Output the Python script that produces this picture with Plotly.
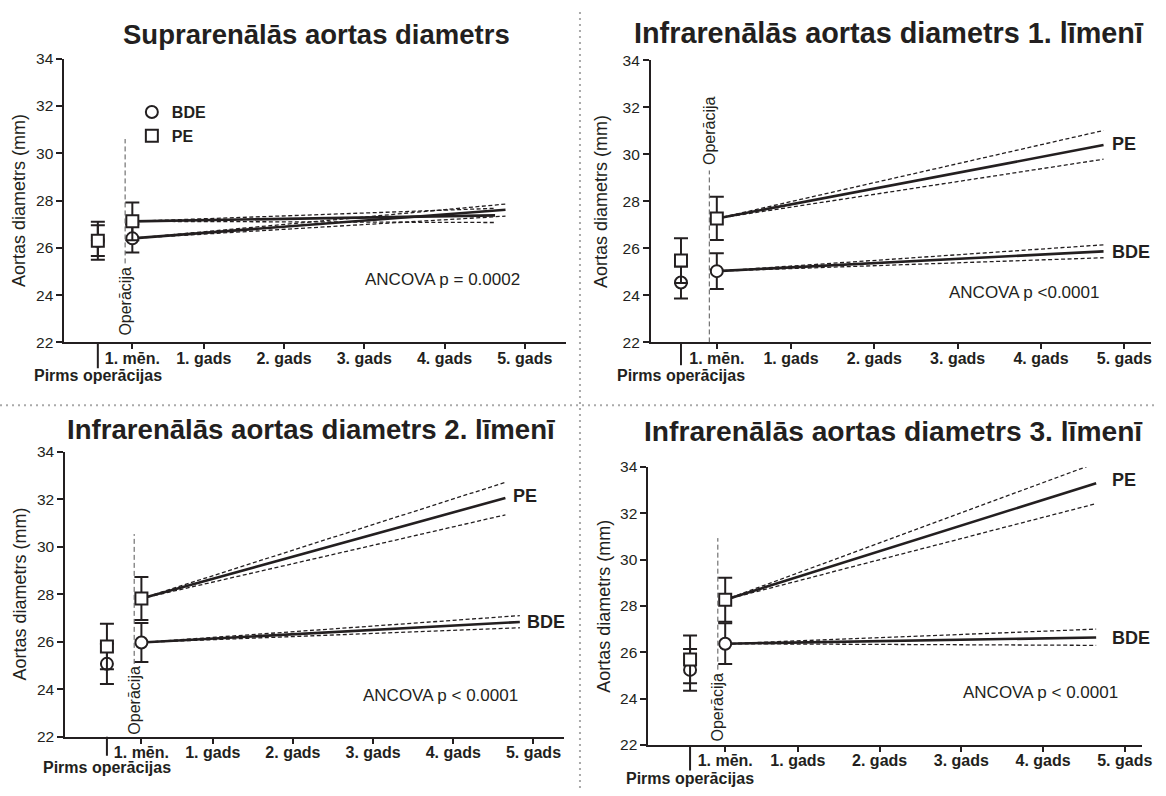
import plotly.graph_objects as go

W, H = 1166, 796
FONT = "Liberation Sans, Arial, Helvetica, sans-serif"
INK = "#231f20"

# ---------------- data ----------------
panel_titles = [
    "Suprarenālās aortas diametrs",
    "Infrarenālās aortas diametrs 1. līmenī",
    "Infrarenālās aortas diametrs 2. līmenī",
    "Infrarenālās aortas diametrs 3. līmenī",
]
ancova_texts = ["ANCOVA p = 0.0002", "ANCOVA p <0.0001", "ANCOVA p < 0.0001", "ANCOVA p < 0.0001"]
y_axis_title = "Aortas diametrs (mm)"
x_tick_labels = ["1. mēn.", "1. gads", "2. gads", "3. gads", "4. gads", "5. gads"]
x_tick_years = [0.11, 1, 2, 3, 4, 5]
preop_label = "Pirms operācijas"
operation_label = "Operācija"
preop_x = -0.32
month1_x = 0.11
operation_x = 0.02
y_ticks = [22, 24, 26, 28, 30, 32, 34]
group_names = ["BDE", "PE"]

# measured means and error half-widths (mm), per panel
bde_preop_mean = [26.30, 24.55, 25.07, 25.24]
bde_preop_err = [0.80, 0.68, 0.85, 0.90]
pe_preop_mean = [26.30, 25.48, 25.80, 25.69]
pe_preop_err = [0.65, 0.95, 0.96, 1.03]
bde_1m_mean = [26.40, 25.03, 25.97, 26.37]
bde_1m_err = [0.60, 0.76, 0.82, 0.88]
pe_1m_mean = [27.12, 27.27, 27.82, 28.27]
pe_1m_err = [0.80, 0.92, 0.90, 0.95]

# regression lines (start at 1 month mean) and CI bounds at line end
bde_fit_end_x = [4.76, 4.75, 4.83, 4.65]
bde_fit_end = [27.61, 25.87, 26.83, 26.64]
bde_ci_hi_end = [27.85, 26.15, 27.10, 27.00]
bde_ci_lo_end = [27.34, 25.60, 26.59, 26.30]
pe_fit_end_x = [4.63, 4.75, 4.65, 4.65]
pe_fit_end = [27.37, 30.39, 32.05, 33.30]
pe_ci_hi_end = [27.67, 31.01, 32.71, 34.17]
pe_ci_lo_end = [27.07, 29.79, 31.34, 32.42]

# ---------------- layout (pixel boxes etc.) ----------------
panels = [
    dict(xd=(65, 570.6), yd=(50.7, 340.7), xr=(-0.736, 5.51), tx=319.5, ty=26, ts=27.5, ytx=18.6,
         anc=(3.97, 24.66), op_text_y=23.73, op_line=(25.34, 30.6), pre_y=375, pre_tick=367, end_labels=None),
    dict(xd=(656.6, 1161), yd=(52.3, 340.7), xr=(-0.68, 5.32), tx=897, ty=25, ts=28.8, ytx=607,
         anc=(3.79, 24.14), op_text_y=31.0, op_line=(22.0, 29.31), pre_y=374, pre_tick=364,
         end_labels=((4.83, 30.45), (4.83, 25.84))),
    dict(xd=(65.8, 568.8), yd=(452.3, 743.7), xr=(-0.84, 5.38), tx=314, ty=429.7, ts=27.6, ytx=20.4,
         anc=(3.84, 23.74), op_text_y=23.53, op_line=(25.07, 30.53), pre_y=775.5, pre_tick=763,
         end_labels=((4.72, 32.13), (4.90, 26.83))),
    dict(xd=(654, 1151.8), yd=(468, 752), xr=(-0.83, 5.21), tx=900.8, ty=431.3, ts=28.2, ytx=609,
         anc=(3.97, 24.28), op_text_y=23.65, op_line=(25.25, 30.93), pre_y=786, pre_tick=778,
         end_labels=((4.82, 33.46), (4.82, 26.60))),
]

fig = go.Figure()
annotations = []
shapes = []
layout_axes = {}

for i, p in enumerate(panels):
    sfx = "" if i == 0 else str(i + 1)
    xa, ya = "x" + sfx, "y" + sfx

    # regression lines with confidence bounds
    for start, end_x, fit, hi, lo in [
        (bde_1m_mean[i], bde_fit_end_x[i], bde_fit_end[i], bde_ci_hi_end[i], bde_ci_lo_end[i]),
        (pe_1m_mean[i], pe_fit_end_x[i], pe_fit_end[i], pe_ci_hi_end[i], pe_ci_lo_end[i]),
    ]:
        for yend in (hi, lo):
            fig.add_trace(go.Scatter(x=[month1_x, end_x], y=[start, yend], mode="lines",
                                     line=dict(color=INK, width=1.3, dash="4px,2.5px"),
                                     xaxis=xa, yaxis=ya, showlegend=False, hoverinfo="skip"))
        fig.add_trace(go.Scatter(x=[month1_x, end_x], y=[start, fit], mode="lines",
                                 line=dict(color=INK, width=2.6),
                                 xaxis=xa, yaxis=ya, showlegend=False, hoverinfo="skip"))

    # group means with error bars
    for gname, sym, means, errs in [
        ("BDE", "circle", [bde_preop_mean[i], bde_1m_mean[i]], [bde_preop_err[i], bde_1m_err[i]]),
        ("PE", "square", [pe_preop_mean[i], pe_1m_mean[i]], [pe_preop_err[i], pe_1m_err[i]]),
    ]:
        fig.add_trace(go.Scatter(
            x=[preop_x, month1_x], y=means, mode="markers", name=gname,
            marker=dict(symbol=sym, size=12, color="white", line=dict(color=INK, width=2)),
            error_y=dict(type="data", array=errs, visible=True, color=INK, thickness=2, width=7),
            xaxis=xa, yaxis=ya, showlegend=(i == 0), legendgroup=gname,
        ))

    layout_axes["xaxis" + sfx] = dict(
        domain=[p["xd"][0] / W, p["xd"][1] / W], range=list(p["xr"]), anchor=ya,
        tickmode="array", tickvals=x_tick_years, ticktext=["<b>%s</b>" % t for t in x_tick_labels],
        ticks="outside", ticklen=5, tickwidth=1.5, tickcolor=INK, ticklabelstandoff=-5,
        showline=True, linewidth=2, linecolor=INK, showgrid=False, zeroline=False,
        tickfont=dict(family=FONT, size=16, color=INK), fixedrange=True,
    )
    layout_axes["yaxis" + sfx] = dict(
        domain=[1 - p["yd"][1] / H, 1 - p["yd"][0] / H], range=[22, 34], anchor=xa,
        tickmode="array", tickvals=y_ticks,
        ticks="outside", ticklen=6, tickwidth=1.5, tickcolor=INK,
        showline=True, linewidth=2, linecolor=INK, showgrid=False, zeroline=False,
        tickfont=dict(family=FONT, size=15.5, color=INK), fixedrange=True,
    )

    # panel title
    annotations.append(dict(text="<b>%s</b>" % panel_titles[i], xref="paper", yref="paper",
                            x=p["tx"] / W, y=1 - p["ty"] / H, xanchor="center", yanchor="middle",
                            showarrow=False, font=dict(family=FONT, size=p["ts"], color=INK)))
    # y axis title
    annotations.append(dict(text=y_axis_title, xref="paper", yref="paper", textangle=-90,
                            x=p["ytx"] / W, y=1 - (p["yd"][0] + p["yd"][1]) / 2 / H,
                            xanchor="center", yanchor="middle", showarrow=False,
                            font=dict(family=FONT, size=18, color=INK)))
    # ANCOVA text
    annotations.append(dict(text=ancova_texts[i], xref=xa, yref=ya, x=p["anc"][0], y=p["anc"][1],
                            xanchor="center", yanchor="middle", showarrow=False,
                            font=dict(family=FONT, size=17, color=INK)))
    # operation marker
    annotations.append(dict(text=operation_label, xref=xa, yref=ya, x=operation_x, y=p["op_text_y"],
                            textangle=-90, xanchor="center", yanchor="middle", showarrow=False,
                            font=dict(family=FONT, size=16, color=INK)))
    shapes.append(dict(type="line", xref=xa, yref=ya, x0=operation_x, x1=operation_x,
                       y0=p["op_line"][0], y1=p["op_line"][1],
                       line=dict(color="#555555", width=1, dash="5px,3px")))
    # pre-operation tick and label
    shapes.append(dict(type="line", xref=xa, yref="paper",
                       x0=preop_x, x1=preop_x, y0=1 - p["yd"][1] / H, y1=1 - p["pre_tick"] / H,
                       line=dict(color=INK, width=2)))
    annotations.append(dict(text="<b>%s</b>" % preop_label, xref=xa, yref="paper", x=preop_x,
                            y=1 - p["pre_y"] / H, xanchor="center", yanchor="middle", showarrow=False,
                            font=dict(family=FONT, size=16, color=INK)))
    # end-of-line group labels
    if p["end_labels"]:
        for (lx, ly), gname in zip(p["end_labels"], ["PE", "BDE"]):
            annotations.append(dict(text="<b>%s</b>" % gname, xref=xa, yref=ya, x=lx, y=ly,
                                    xanchor="left", yanchor="middle", showarrow=False,
                                    font=dict(family=FONT, size=18, color=INK)))

# dotted dividers
shapes.append(dict(type="line", xref="paper", yref="paper", x0=585 / W, x1=585 / W, y0=0, y1=1,
                   line=dict(color="#aaaaaa", width=2, dash="2px,4px")))
shapes.append(dict(type="line", xref="paper", yref="paper", x0=0, x1=1, y0=1 - 405 / H, y1=1 - 405 / H,
                   line=dict(color="#aaaaaa", width=2, dash="2px,4px")))

fig.update_layout(
    width=W, height=H, margin=dict(l=0, r=0, t=0, b=0),
    paper_bgcolor="white", plot_bgcolor="white",
    font=dict(family=FONT, color=INK),
    annotations=annotations, shapes=shapes,
    legend=dict(x=133 / W, y=1 - 88 / H, xanchor="left", yanchor="top",
                bgcolor="rgba(0,0,0,0)", font=dict(family=FONT, size=16, color=INK, weight="bold"),
                itemsizing="trace", tracegroupgap=0),
    **layout_axes,
)

fig.write_html("out.html")
